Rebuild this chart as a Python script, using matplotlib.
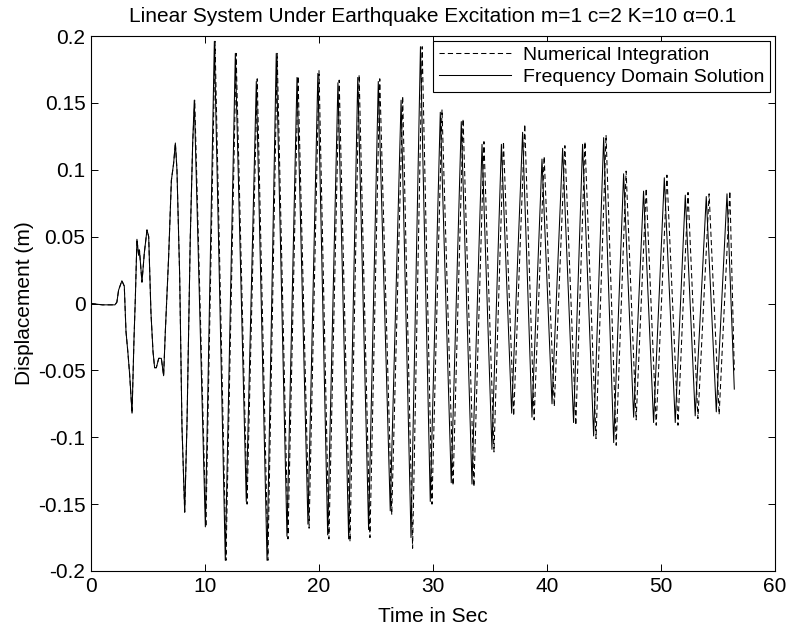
import numpy as np
import matplotlib
matplotlib.use('Agg')
from matplotlib import pyplot as plt

plt.rcParams['font.family'] = ['Liberation Sans', 'DejaVu Sans']

# 起始段（两条曲线几乎重合）：时间(s) 与 位移(m)
early_t = [0.0, 1.0, 2.1, 2.27, 2.42, 2.71, 2.92, 3.07, 3.24, 3.39, 3.6, 3.77, 3.89,
           4.03, 4.18, 4.25, 4.47, 4.68, 4.91, 5.06, 5.26, 5.44, 5.58, 5.73, 5.94,
           6.17, 6.37, 6.52, 6.81, 7.05, 7.25, 7.4, 7.54, 7.78, 7.98, 8.22, 8.42,
           8.71, 8.92]
early_x = [0.0, -0.001, -0.001, 0.001, 0.01, 0.017, 0.013, -0.021, -0.037, -0.053,
           -0.082, -0.027, 0.004, 0.048, 0.036, 0.04, 0.016, 0.038, 0.055, 0.05,
           -0.007, -0.036, -0.048, -0.048, -0.041, -0.041, -0.054, -0.021, 0.035,
           0.092, 0.105, 0.12, 0.1, 0.02, -0.092, -0.156, -0.09, 0.05, 0.12]

# 振荡段：频域解的峰谷
freq_osc_t = [9.06, 10.03, 10.82, 11.78, 12.66, 13.62, 14.5, 15.44, 16.25, 17.19,
              18.07, 19.03, 19.9, 20.76, 21.66, 22.6, 23.4, 24.35, 25.2, 26.25,
              27.2, 28.07, 28.9, 29.76, 30.64, 31.6, 32.48, 33.42, 34.3, 35.17,
              36.0, 36.9, 37.86, 38.68, 39.56, 40.44, 41.37, 42.33, 43.12, 44.09,
              44.97, 45.85, 46.72, 47.6, 48.47, 49.35, 50.29, 51.25, 52.13, 53.0,
              53.97, 54.85, 55.79, 56.43]
freq_osc_x = [0.152, -0.167, 0.196, -0.192, 0.187, -0.148, 0.166, -0.192, 0.187,
              -0.174, 0.169, -0.165, 0.172, -0.173, 0.165, -0.176, 0.169, -0.169,
              0.166, -0.155, 0.152, -0.175, 0.192, -0.148, 0.143, -0.134, 0.136,
              -0.135, 0.119, -0.109, 0.119, -0.082, 0.128, -0.085, 0.108, -0.075,
              0.116, -0.089, 0.119, -0.099, 0.124, -0.104, 0.097, -0.085, 0.084,
              -0.089, 0.094, -0.089, 0.081, -0.084, 0.08, -0.081, 0.082, -0.064]

# 振荡段：数值积分的峰谷（相位略有滞后）
num_osc_t = [9.1, 10.08, 10.88, 11.84, 12.73, 13.69, 14.58, 15.52, 16.33, 17.28,
             18.16, 19.13, 20.0, 20.87, 21.77, 22.72, 23.52, 24.47, 25.33, 26.38,
             27.34, 28.21, 29.05, 29.91, 30.79, 31.76, 32.64, 33.59, 34.47, 35.35,
             36.18, 37.08, 38.05, 38.87, 39.75, 40.64, 41.57, 42.53, 43.33, 44.3,
             45.18, 46.07, 46.94, 47.82, 48.7, 49.58, 50.52, 51.49, 52.37, 53.24,
             54.22, 55.1, 56.04, 56.43]
num_osc_x = [0.152, -0.167, 0.196, -0.192, 0.187, -0.15, 0.168, -0.192, 0.187,
             -0.176, 0.17, -0.168, 0.174, -0.176, 0.167, -0.178, 0.171, -0.175,
             0.168, -0.158, 0.155, -0.183, 0.192, -0.15, 0.145, -0.136, 0.138,
             -0.137, 0.121, -0.111, 0.121, -0.084, 0.134, -0.087, 0.11, -0.077,
             0.118, -0.091, 0.121, -0.101, 0.126, -0.106, 0.099, -0.087, 0.086,
             -0.091, 0.096, -0.091, 0.083, -0.086, 0.082, -0.083, 0.084, -0.05]

x_ticks = [0, 10, 20, 30, 40, 50, 60]
y_ticks = [-0.2, -0.15, -0.1, -0.05, 0, 0.05, 0.1, 0.15, 0.2]
y_tick_labels = ['-0.2', '-0.15', '-0.1', '-0.05', '0', '0.05', '0.1', '0.15', '0.2']

freq_t = early_t + freq_osc_t
freq_x = early_x + freq_osc_x
num_t = early_t + num_osc_t
num_x = early_x + num_osc_x

fs = 15
fig = plt.figure(figsize=(7.88, 6.28), dpi=100)
ax = fig.add_axes([91 / 788, 57 / 628, 684 / 788, 535 / 628])

ax.plot(num_t, num_x, color='k', linestyle=(0, (5, 3)), linewidth=0.75,
        label='Numerical Integration')
ax.plot(freq_t, freq_x, color='k', linestyle='-', linewidth=0.75,
        label='Frequency Domain Solution')

ax.set_xlim(0, 60)
ax.set_ylim(-0.2, 0.2)
ax.set_xticks(x_ticks)
ax.set_xticklabels([str(v) for v in x_ticks], fontsize=fs)
ax.set_yticks(y_ticks)
ax.set_yticklabels(y_tick_labels, fontsize=fs)
ax.tick_params(direction='in', length=5, width=0.7, top=True, right=True, pad=4)
for sp in ax.spines.values():
    sp.set_linewidth(0.8)

ax.set_title('Linear System Under Earthquake Excitation m=1 c=2 K=10 \u03b1=0.1',
             fontsize=fs, pad=10)
ax.set_xlabel('Time in Sec', fontsize=fs, labelpad=8)
ax.set_ylabel('Displacement (m)', fontsize=fs, labelpad=3)

leg = ax.legend(loc='upper right', fontsize=14, fancybox=False, framealpha=1,
                edgecolor='k', handlelength=3.7, handletextpad=0.6,
                borderpad=0.3, labelspacing=0.2, borderaxespad=0.25)
leg.get_frame().set_linewidth(0.8)

fig.savefig('out.png', dpi=100)
